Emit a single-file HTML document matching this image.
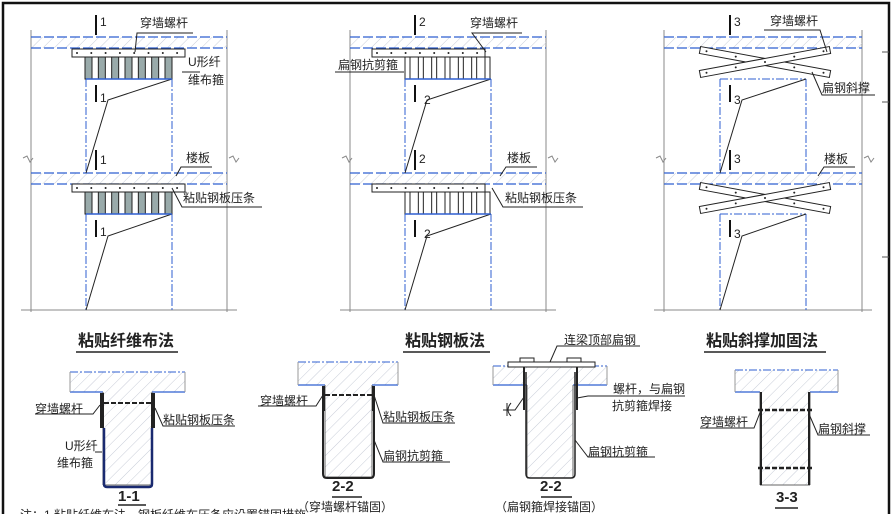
<!DOCTYPE html>
<html><head><meta charset="utf-8"><style>
html,body{margin:0;padding:0;background:#fff;}
svg{display:block;}
text{font-family:"Liberation Sans","Noto Sans CJK SC",sans-serif;fill:#222;}
.t{font-size:12px;}
.ti{font-size:16px;font-weight:bold;}
</style></head><body>
<svg id="s" width="892" height="514" viewBox="0 0 892 514" xmlns="http://www.w3.org/2000/svg">
<defs>
<pattern id="h" width="8" height="8" patternUnits="userSpaceOnUse" patternTransform="rotate(45)">
<line x1="0" y1="0" x2="0" y2="8" stroke="#c8cdd8" stroke-width="1"/></pattern>
</defs>
<rect x="0" y="0" width="892" height="514" fill="#fff"/>
<path d="M3,514 L3,3 L889,3 L889,514" fill="none" stroke="#111" stroke-width="2.5"/>
<g stroke="#555" stroke-width="1"><line x1="882" y1="52" x2="889" y2="52"/><line x1="882" y1="102" x2="889" y2="102"/><line x1="882" y1="257" x2="889" y2="257"/></g>
<g id="g"></g>

<text class="t" x="140" y="27">穿墙螺杆</text>
<text class="t" x="188" y="66">U形纤</text>
<text class="t" x="188" y="84">维布箍</text>
<text class="t" x="186" y="162">楼板</text>
<text class="t" x="183" y="202">粘贴钢板压条</text>
<text class="t" x="100" y="26" font-size="13">1</text>
<text class="t" x="100" y="102" font-size="13">1</text>
<text class="t" x="100" y="164" font-size="13">1</text>
<text class="t" x="100" y="236" font-size="13">1</text>

<text class="t" x="470" y="27">穿墙螺杆</text>
<text class="t" x="338" y="69">扁钢抗剪箍</text>
<text class="t" x="507" y="162">楼板</text>
<text class="t" x="505" y="202">粘贴钢板压条</text>
<text class="t" x="419" y="26" font-size="13">2</text>
<text class="t" x="424" y="104" font-size="13">2</text>
<text class="t" x="419" y="163" font-size="13">2</text>
<text class="t" x="424" y="238" font-size="13">2</text>

<text class="t" x="770" y="25">穿墙螺杆</text>
<text class="t" x="822" y="92">扁钢斜撑</text>
<text class="t" x="824" y="163">楼板</text>
<text class="t" x="734" y="26" font-size="13">3</text>
<text class="t" x="734" y="104" font-size="13">3</text>
<text class="t" x="734" y="163" font-size="13">3</text>
<text class="t" x="734" y="238" font-size="13">3</text>

<text class="ti" x="78" y="346">粘贴纤维布法</text>
<text class="ti" x="405" y="346">粘贴钢板法</text>
<text class="ti" x="706" y="346">粘贴斜撑加固法</text>
<g stroke="#222" stroke-width="1.5"><line x1="76" y1="352" x2="178" y2="352"/><line x1="403" y1="352" x2="490" y2="352"/><line x1="704" y1="352" x2="826" y2="352"/></g>

<text class="t" x="35" y="413">穿墙螺杆</text>
<text class="t" x="163" y="424">粘贴钢板压条</text>
<text class="t" x="65" y="450">U形纤</text>
<text class="t" x="57" y="467">维布箍</text>
<text x="118" y="501" font-size="15" font-weight="bold">1-1</text>
<text class="t" x="260" y="405">穿墙螺杆</text>
<text class="t" x="383" y="421">粘贴钢板压条</text>
<text class="t" x="383" y="460">扁钢抗剪箍</text>
<text x="332" y="491" font-size="15" font-weight="bold">2-2</text>
<text class="t" x="297" y="511">（穿墙螺杆锚固）</text>
<text class="t" x="564" y="344">连梁顶部扁钢</text>
<text class="t" x="613" y="393">螺杆，与扁钢</text>
<text class="t" x="612" y="410">抗剪箍焊接</text>
<text class="t" x="588" y="456">扁钢抗剪箍</text>
<text x="540" y="491" font-size="15" font-weight="bold">2-2</text>
<text class="t" x="495" y="511">（扁钢箍焊接锚固）</text>
<text class="t" x="700" y="426">穿墙螺杆</text>
<text class="t" x="818" y="433">扁钢斜撑</text>
<text x="776" y="502" font-size="15" font-weight="bold">3-3</text>
<text class="t" x="20" y="519" fill="#666">注：1.粘贴纤维布法，钢板纤维布压条应设置锚固措施</text>
</svg>
<script>
const g=document.getElementById('g');const NS='http://www.w3.org/2000/svg';
function el(t,a){const e=document.createElementNS(NS,t);for(const k in a)e.setAttribute(k,a[k]);g.appendChild(e);return e;}
function L(x1,y1,x2,y2,c,w,d){const o={x1,y1,x2,y2,stroke:c||'#222','stroke-width':w||1};if(d)o['stroke-dasharray']=d;el('line',o);}
function P(d,c,w,f){el('path',{d,stroke:c||'#222','stroke-width':w||1,fill:f||'none'});}
function R(x,y,w,h,f,s,sw){el('rect',{x,y,width:w,height:h,fill:f||'none',stroke:s||'none','stroke-width':sw||1});}
const B='#2f5fd0',DD='8 2 2 2';
function panel(x0,wl,wr,ol,or_,type){
  L(wl,30,wl,312,'#888');L(wr,30,wr,312,'#888');
  L(wl-10,310,wr+10,310,'#888');
  P(`M${wl-8},158 l4,-2 l3,6 l3,-4`,'#888');P(`M${wr+2},158 l4,-2 l3,6 l3,-4`,'#888');
  for(const y of [37,173]){
    R(wl,y,wr-wl,11,'url(#h)');
    L(wl,y,wr,y,B,1.2,'10 3');L(wl,y+11,wr,y+11,B,1.2,'10 3');
  }
  for(const [t,b] of [[79,173],[214,310]]){
    L(ol,t,ol,b,B,1,DD);L(or_,t,or_,b,B,1,DD);L(ol,t,or_,t,B,1,DD);
  }
  const sx=ol+10;
  for(const [y1,y2] of [[15,35],[85,102],[150,170],[220,237]]) L(sx,y1,sx,y2,'#111',2);
  P(`M${or_},79 L${sx+12},100 L${ol},173`,'#222',1);
  P(`M${or_},214 L${sx+12},236 L${ol},310`,'#222',1);
  if(type<3){
    for(const y of [49,184]){
      R(x0+72,y,113,8,'#fff','#222',1);
      for(let i=0;i<8;i++)el('circle',{cx:x0+77+i*14.3,cy:y+4,r:1,fill:'#222'});
      for(let i=0;i<7;i++){const sx2=ol+i*(or_-ol-6)/6;
        if(type==1)R(sx2-1,y+8,7,22,'#9aa','#222',1);
        else R(sx2,y+8,5,22,'#fff','#222',1);}
      L(ol,y+30,or_,y+30,B,1.5);
    }
  } else {
    for(const y of [50,186]){
      for(const [a,b] of [[[700,y],[830,y+24]],[[700,y+24],[830,y]]]){
        const dx=b[0]-a[0],dy=b[1]-a[1],l=Math.hypot(dx,dy),nx=-dy/l*3.5,ny=dx/l*3.5;
        P(`M${a[0]+nx},${a[1]+ny} L${b[0]+nx},${b[1]+ny} L${b[0]-nx},${b[1]-ny} L${a[0]-nx},${a[1]-ny}Z`,'#222',1,'#fff');
        for(let k=0;k<5;k++){const t=0.05+k*0.225;el('circle',{cx:a[0]+dx*t,cy:a[1]+dy*t,r:1,fill:'#222'});}
      }
    }
  }
}
panel(0,31,227,86,172,1);panel(300,350,546,405,491,2);panel(600,664,862,720,806,3);
P('M135,52 L137,33 L193,33');P('M182,72 L200,72');P('M176,176 L181,167 L212,167');P('M172,188 L182,207 L262,207');
P('M486,52 L472,33 L522,33');P('M404,72 L335,72');P('M500,176 L506,167 L537,167');P('M492,188 L503,207 L583,207');
P('M827,52 L820,30 L764,30');P('M812,72 L822,95 L875,95');P('M818,176 L824,167 L855,167');
function sec(sl,sr,st,sb,bl,br,bb){
  R(sl,st,sr-sl,sb-st,'url(#h)');L(sl,st,sr,st,B,1,DD);L(sl,sb,bl,sb,B,1.2);L(br,sb,sr,sb,B,1.2);
  L(sl,st,sl,sb,'#999');L(sr,st,sr,sb,'#999');
  R(bl,sb,br-bl,bb-sb,'url(#h)');L(bl,sb,bl,bb,'#666');L(br,sb,br,bb,'#666');L(bl,bb,br,bb,'#666');
}
sec(70,185,372,392,103,152,485);
R(100,393,4,35,'#222');R(151,393,4,35,'#222');L(104,403,151,403,'#222',2,'5 2');
P('M104,428 L104,484 Q104,487 107,487 L149,487 Q152,487 152,484 L152,428','#1a2a70',2.5);
L(118,505,146,505,'#222',1.5);
P('M100,405 L93,414 L35,414');P('M155,408 L163,426 L235,426');P('M102,452 L95,452');
sec(298,398,362,385,325,372,477);
R(322,386,3,25,'#222');R(372,386,3,25,'#222');L(325,395,372,395,'#222',2,'5 2');
P('M323,410 L323,474 Q323,478 327,478 L370,478 Q374,478 374,474 L374,410','#222',2);
L(332,497,362,497,'#222',1.5);
P('M323,395 L316,406 L258,406');P('M374,395 L383,423 L455,423');P('M374,440 L383,462 L450,462');
sec(493,607,366,385,527,573,478);
R(508,362,87,5,'#fff','#222',1);R(520,358,14,4,'#fff','#222',1);R(567,358,14,4,'#fff','#222',1);
L(524,367,524,410,'#222',2);L(577,367,577,410,'#222',2);
P('M526,372 L526,474 Q526,478 530,478 L571,478 Q575,478 575,474 L575,372','#222',1.5);
L(541,497,572,497,'#222',1.5);
P('M550,362 L557,346 L640,346');P('M577,398 L588,396 L685,396');P('M575,440 L588,457 L655,457');
P('M524,397 L515,410 L503,410 M507,403 L507,416 M511,403 Q505,410 511,416');
sec(735,838,370,392,760,810,485);
L(761,392,761,485,'#222',2);L(809,392,809,485,'#222',2);
L(758,410,812,410,'#222',2.5,'5 2');L(758,468,812,468,'#222',2.5,'5 2');
L(775,508,798,508,'#222',1.5);
P('M761,410 L754,428 L700,428');P('M809,414 L818,435 L870,435');
</script>
</body></html>
